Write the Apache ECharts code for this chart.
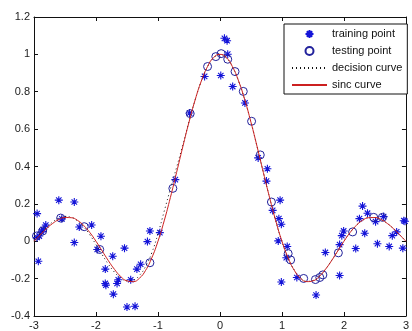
<!DOCTYPE html>
<html>
<head>
<meta charset="utf-8">
<script src="https://cdn.jsdelivr.net/npm/echarts@6/dist/echarts.min.js"></script>
<style>
html, body { margin: 0; padding: 0; background: #fff; }
#main { width: 412px; height: 331px; }
</style>
</head>
<body>
<div id="main"></div>
<script>
// x samples of the two curves (-3 .. 3)
var curveX = [-3.0, -2.9, -2.8, -2.7, -2.6, -2.5, -2.4, -2.3, -2.2, -2.1,
    -2.0, -1.9, -1.8, -1.7, -1.6, -1.5, -1.4, -1.3, -1.2, -1.1,
    -1.0, -0.9, -0.8, -0.7, -0.6, -0.5, -0.4, -0.3, -0.2, -0.1,
    0.0, 0.1, 0.2, 0.3, 0.4, 0.5, 0.6, 0.7, 0.8, 0.9,
    1.0, 1.1, 1.2, 1.3, 1.4, 1.5, 1.6, 1.7, 1.8, 1.9,
    2.0, 2.1, 2.2, 2.3, 2.4, 2.5, 2.6, 2.7, 2.8, 2.9, 3.0]
// red sinc curve
var sincY = [0, 0.034, 0.067, 0.095, 0.116, 0.127, 0.126, 0.112, 0.085, 0.047,
    0, -0.052, -0.104, -0.151, -0.189, -0.212, -0.216, -0.198, -0.156, -0.089,
    0, 0.109, 0.234, 0.368, 0.505, 0.637, 0.757, 0.858, 0.935, 0.984,
    1, 0.984, 0.935, 0.858, 0.757, 0.637, 0.505, 0.368, 0.234, 0.109,
    0, -0.089, -0.156, -0.198, -0.216, -0.212, -0.189, -0.151, -0.104, -0.052,
    0, 0.047, 0.085, 0.112, 0.126, 0.127, 0.116, 0.095, 0.067, 0.034, 0]
// dotted decision curve
var decisionY = [0.005, 0.04, 0.075, 0.103, 0.124, 0.133, 0.128, 0.11, 0.078, 0.035,
    -0.018, -0.072, -0.123, -0.166, -0.197, -0.212, -0.208, -0.183, -0.135, -0.062,
    0.04, 0.16, 0.28, 0.395, 0.515, 0.64, 0.757, 0.858, 0.935, 0.982,
    0.998, 0.982, 0.934, 0.857, 0.756, 0.637, 0.505, 0.368, 0.234, 0.108,
    -0.002, -0.09, -0.155, -0.196, -0.214, -0.21, -0.188, -0.15, -0.103, -0.052,
    0, 0.047, 0.085, 0.112, 0.126, 0.127, 0.116, 0.095, 0.067, 0.034, 0]

// training points (asterisks)
var trainX = [-2.95, -2.60, -2.35, -2.81, -2.95, -2.915, -2.88, -2.85, -2.93, -2.35,
    -2.27, -2.07, -1.92, -1.98, -1.73, -1.54, -1.85, -1.85, -1.84, -1.64,
    -1.66, -1.72, -1.50, -1.37, -1.44, -1.34, -1.28, -1.17, -1.13, -0.97,
    -0.72, -0.49, -2.55,
    0.072, 0.115, 0.125, -0.248, 0.013, 0.205, 0.403, 0.616, 0.765, 0.75,
    0.85, 0.97, 0.95, 0.99, 0.94, 1.085, 1.07, 0.99, 1.24, 1.55,
    1.70, 1.93, 1.93, 1.965, 1.995, 2.19, 2.30, 2.25, 2.335, 2.38,
    2.51, 2.64, 2.54, 2.73, 2.78, 2.85, 2.95, 2.965, 2.985]
var trainY = [0.148, 0.22, 0.21, 0.087, 0.02, 0.028, 0.05, 0.064, -0.107, -0.007,
    0.076, 0.087, 0.027, -0.044, -0.08, -0.037, -0.149, -0.226, -0.235, -0.206,
    -0.226, -0.283, -0.352, -0.348, -0.206, -0.149, -0.123, -0.002, 0.055, 0.046,
    0.33, 0.686, 0.12,
    1.086, 1.073, 1.001, 0.882, 0.887, 0.828, 0.74, 0.446, 0.388, 0.322,
    0.165, 0.22, 0.121, 0.091, 0.002, -0.028, -0.088, -0.218, -0.194, -0.288,
    -0.06, -0.183, -0.018, 0.03, 0.055, -0.039, 0.188, 0.121, 0.043, 0.15,
    0.105, 0.132, -0.013, -0.028, 0.03, 0.05, -0.037, 0.11, 0.107]

// testing points (circles)
var testX = [-2.96, -2.86, -2.57, -2.19, -1.94, -1.13, -0.76, -0.48, -0.20, -0.067,
    0.019, 0.125, 0.243, 0.376, 0.51, 0.65, 0.83, 1.10, 1.14, 1.35,
    1.54, 1.61, 1.66, 1.91, 2.14, 2.48, 2.62]
var testY = [0.028, 0.055, 0.124, 0.078, -0.044, -0.115, 0.283, 0.683, 0.935, 0.988,
    1.004, 0.974, 0.908, 0.802, 0.642, 0.462, 0.21, -0.066, -0.1, -0.199,
    -0.205, -0.194, -0.18, -0.062, 0.05, 0.128, 0.128]

var xTicks = [-3, -2, -1, 0, 1, 2, 3]
var yTicks = [-0.4, -0.2, 0, 0.2, 0.4, 0.6, 0.8, 1, 1.2]

function pairs (xs, ys) {
    return xs.map(function (x, i) { return [x, ys[i]] })
}

var star = 'path://M5,0L5,10M0,5L10,5M1.6,1.6L8.4,8.4M8.4,1.6L1.6,8.4'
var font = 'Liberation Sans'

var axisBase = {
    type: 'value',
    axisLine: { show: true, onZero: false, lineStyle: { color: '#111', width: 1 } },
    axisTick: { show: true, inside: true, length: 4, lineStyle: { color: '#111' } },
    splitLine: { show: false }
}

var myChart = echarts.init(document.getElementById('main'), null, { renderer: 'canvas' })
myChart.setOption({
    animation: false,
    backgroundColor: '#fff',
    grid: { left: 34, right: 3, top: 17, bottom: 14 },
    legend: {
        orient: 'vertical',
        left: 284,
        top: 24,
        padding: [4, 5, 3, 7],
        itemGap: 5,
        itemWidth: 35,
        itemHeight: 8,
        backgroundColor: '#fff',
        borderColor: '#111',
        borderWidth: 1,
        borderRadius: 0,
        textStyle: { fontFamily: font, fontSize: 11, color: '#111', lineHeight: 12 },
        data: [
            'training point',
            'testing point',
            { name: 'decision curve', itemStyle: { opacity: 0 } },
            { name: 'sinc curve', itemStyle: { opacity: 0 } }
        ]
    },
    xAxis: [
        Object.assign({}, axisBase, {
            min: xTicks[0], max: xTicks[xTicks.length - 1], interval: 1,
            position: 'bottom',
            axisLabel: { margin: 4, fontFamily: font, fontSize: 11, color: '#222' }
        }),
        Object.assign({}, axisBase, {
            min: xTicks[0], max: xTicks[xTicks.length - 1], interval: 1,
            position: 'top',
            axisLabel: { show: false }
        })
    ],
    yAxis: [
        Object.assign({}, axisBase, {
            min: yTicks[0], max: yTicks[yTicks.length - 1], interval: 0.2,
            position: 'left',
            axisLabel: {
                margin: 4, fontFamily: font, fontSize: 11, color: '#222',
                formatter: function (v) { return String(Math.round(v * 10) / 10) }
            }
        }),
        Object.assign({}, axisBase, {
            min: yTicks[0], max: yTicks[yTicks.length - 1], interval: 0.2,
            position: 'right',
            axisLabel: { show: false }
        })
    ],
    series: [
        {
            name: 'training point',
            type: 'scatter',
            symbol: star,
            symbolSize: 8,
            itemStyle: { color: 'rgba(0,0,0,0)', borderColor: '#1414d8', borderWidth: 1.1, opacity: 1 },
            data: pairs(trainX, trainY),
            z: 2
        },
        {
            name: 'testing point',
            type: 'scatter',
            symbol: 'circle',
            symbolSize: 8,
            itemStyle: { color: 'rgba(0,0,0,0)', borderColor: '#22229c', borderWidth: 1, opacity: 1 },
            data: pairs(testX, testY),
            z: 3
        },
        {
            name: 'decision curve',
            type: 'line',
            smooth: true,
            symbol: 'none',
            itemStyle: { color: '#111' },
            lineStyle: { color: '#111', width: 1, type: [1, 3] },
            data: pairs(curveX, decisionY),
            z: 4
        },
        {
            name: 'sinc curve',
            type: 'line',
            smooth: true,
            symbol: 'none',
            itemStyle: { color: '#cc2020' },
            lineStyle: { color: '#cc2020', width: 1 },
            data: pairs(curveX, sincY),
            z: 5
        }
    ]
})
</script>
</body>
</html>
